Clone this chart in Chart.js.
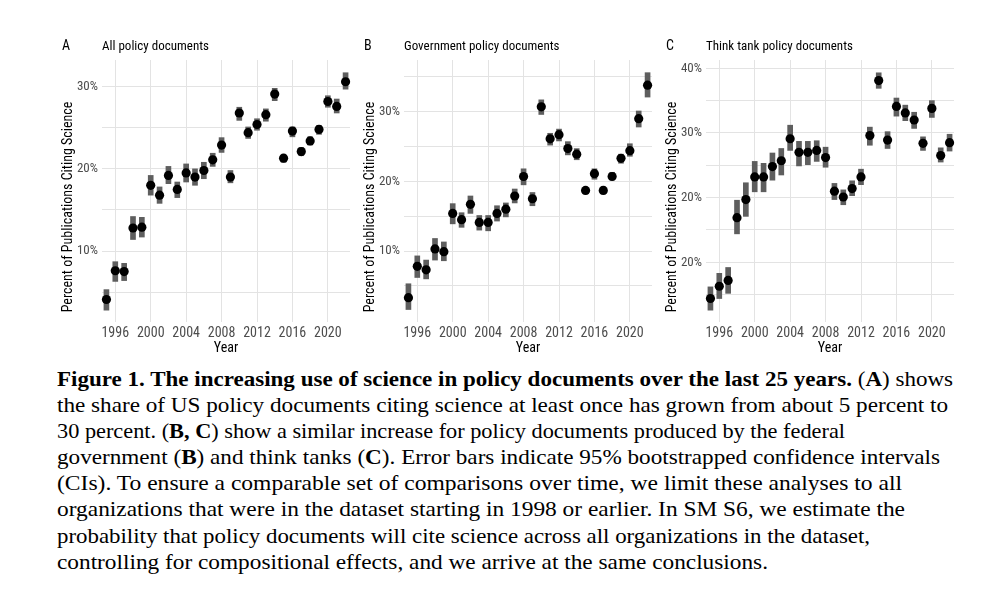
<!DOCTYPE html>
<html>
<head>
<meta charset="utf-8">
<script src="https://cdn.jsdelivr.net/npm/chart.js@4.4.1/dist/chart.umd.min.js"></script>
<style>
  body { margin: 0; background: #fff; width: 1000px; height: 604px; position: relative; overflow: hidden; }
  canvas { position: absolute; top: 30px; }
  #chartA { left: 48px; }
  #chartB { left: 350px; }
  #chartC { left: 652px; }
  #caption { position: absolute; left: 57px; top: 366px; font-family: "Liberation Serif", "Times New Roman", serif;
             font-size: 20.3px; line-height: 26.1px; white-space: nowrap; color: #000; }
  #caption span.line { display: inline-block; transform-origin: 0 50%; }
</style>
</head>
<body>
<canvas id="chartA" width="308" height="330"></canvas>
<canvas id="chartB" width="308" height="330"></canvas>
<canvas id="chartC" width="308" height="330"></canvas>
<div id="caption">
<div><span class="line"><b>Figure 1. The increasing use of science in policy documents over the last 25 years.</b> (<b>A</b>) shows</span></div>
<div><span class="line">the share of US policy documents citing science at least once has grown from about 5 percent to</span></div>
<div><span class="line">30 percent. (<b>B, C</b>) show a similar increase for policy documents produced by the federal</span></div>
<div><span class="line">government (<b>B</b>) and think tanks (<b>C</b>). Error bars indicate 95% bootstrapped confidence intervals</span></div>
<div><span class="line">(CIs). To ensure a comparable set of comparisons over time, we limit these analyses to all</span></div>
<div><span class="line">organizations that were in the dataset starting in 1998 or earlier. In SM S6, we estimate the</span></div>
<div><span class="line">probability that policy documents will cite science across all organizations in the dataset,</span></div>
<div><span class="line">controlling for compositional effects, and we arrive at the same conclusions.</span></div>
</div>
<script>
const FONT = '"Roboto Condensed", "Liberation Sans Narrow", Roboto, sans-serif';

const years = [1995, 1996, 1997, 1998, 1999, 2000, 2001, 2002, 2003, 2004, 2005, 2006, 2007, 2008,
               2009, 2010, 2011, 2012, 2013, 2014, 2015, 2016, 2017, 2018, 2019, 2020, 2021, 2022];
const xTicks = [1996, 2000, 2004, 2008, 2012, 2016, 2020];

// A: all policy documents
const allMean = [4.1, 7.6, 7.5, 12.8, 12.9, 18.0, 16.8, 19.2, 17.5, 19.5, 19.0, 19.8, 21.1, 22.9,
                 19.0, 26.8, 24.4, 25.4, 26.6, 29.1, 21.3, 24.6, 22.1, 23.4, 24.8, 28.2, 27.6, 30.6];
const allLow  = [2.8, 6.3, 6.4, 11.4, 11.7, 16.8, 15.8, 18.2, 16.5, 18.4, 18.0, 18.8, 20.3, 22.0,
                 18.3, 25.9, 23.7, 24.7, 25.8, 28.3, 20.8, 23.9, 21.6, 22.9, 24.2, 27.5, 26.8, 29.7];
const allHigh = [5.3, 8.7, 8.5, 14.2, 14.1, 19.2, 17.8, 20.3, 18.4, 20.6, 20.0, 20.8, 21.9, 23.8,
                 19.8, 27.5, 25.1, 26.1, 27.3, 29.8, 21.7, 25.1, 22.6, 23.9, 25.3, 28.9, 28.5, 31.7];

// B: government policy documents
const govMean = [3.3, 7.8, 7.3, 10.3, 9.9, 15.4, 14.5, 16.7, 14.1, 14.1, 15.4, 16.0, 17.9, 20.7,
                 17.5, 30.7, 26.1, 26.7, 24.7, 23.9, 18.7, 21.1, 18.7, 20.7, 23.3, 24.4, 29.0, 33.8];
const govLow  = [1.6, 6.2, 6.0, 8.7, 8.6, 13.9, 13.4, 15.4, 13.0, 12.9, 14.3, 14.9, 16.9, 19.5,
                 16.5, 29.6, 25.2, 25.8, 23.8, 23.1, 18.2, 20.3, 18.2, 20.2, 22.6, 23.6, 27.8, 32.1];
const govHigh = [5.3, 9.3, 8.7, 11.8, 11.3, 16.8, 15.5, 17.9, 15.1, 15.1, 16.5, 16.9, 18.9, 21.8,
                 18.4, 31.7, 26.9, 27.5, 25.7, 24.7, 19.1, 21.8, 19.2, 21.3, 23.9, 25.4, 30.1, 35.6];

// C: think tank policy documents
const tankMean = [4.4, 6.3, 7.2, 16.9, 19.7, 23.2, 23.2, 24.8, 25.7, 29.1, 27.0, 27.0, 27.3, 26.2,
                  21.0, 20.1, 21.4, 23.2, 29.6, 38.1, 28.9, 34.1, 33.1, 32.0, 28.4, 33.8, 26.5, 28.5];
const tankLow  = [2.6, 4.4, 5.2, 14.4, 17.1, 20.9, 20.9, 22.7, 23.5, 27.3, 24.9, 25.1, 25.6, 24.7,
                  19.7, 18.9, 20.3, 22.0, 28.1, 36.9, 27.6, 32.6, 31.9, 30.7, 27.3, 32.4, 25.5, 27.2];
const tankHigh = [6.2, 8.3, 9.2, 19.6, 22.3, 25.6, 25.3, 26.9, 27.6, 31.2, 28.7, 28.7, 28.8, 27.8,
                  22.2, 21.2, 22.6, 24.4, 30.9, 39.3, 30.2, 35.4, 34.3, 33.2, 29.4, 35.0, 27.7, 29.8];

// y ticks (gridlines) and their labels; unlabeled ticks are minor lines
const yTicksA = [5, 10, 15, 20, 25, 30];
const yLabelsA = ['', '10%', '', '20%', '', '30%'];
const yTicksB = [5, 10, 15, 20, 25, 30, 35];
const yLabelsB = ['', '10%', '', '20%', '', '30%', ''];
const yTicksC = [5, 10, 15, 20, 25, 30, 35, 40];
const yLabelsC = ['', '20%', '', '20%', '', '30%', '', '40%'];

const panelText = {
  id: 'panelText',
  afterDraw(chart, args, opts) {
    const {ctx, chartArea} = chart;
    ctx.save();
    ctx.fillStyle = '#000';
    ctx.textBaseline = 'alphabetic';
    ctx.textAlign = 'left';
    ctx.font = '14px ' + FONT;
    ctx.fillText(opts.letter, chartArea.left - 40, 19.5);
    ctx.font = '13px ' + FONT;
    ctx.fillText(opts.title, chartArea.left, 19.5);
    // y axis title, centred on panel incl. x axis
    ctx.translate(20.5, (chartArea.top + chart.height - 6) / 2);
    ctx.rotate(-Math.PI / 2);
    ctx.textAlign = 'center';
    ctx.textBaseline = 'middle';
    ctx.font = '14px ' + FONT;
    ctx.fillText('Percent of Publications Citing Science', 0, 0);
    ctx.restore();
  }
};

function makePanel(id, letter, title, mean, low, high, yMin, yMax, yTicks, yLabels) {
  const ctx = document.getElementById(id).getContext('2d');
  return new Chart(ctx, {
    type: 'bar',
    data: {
      datasets: [{
        type: 'scatter',
        data: years.map((yr, i) => ({x: yr, y: mean[i]})),
        pointRadius: 4.6,
        pointHoverRadius: 4.6,
        backgroundColor: '#000',
        borderWidth: 0,
        clip: false
      }, {
        data: years.map((yr, i) => ({x: yr, y: [low[i], high[i]]})),
        backgroundColor: '#5e5e5e',
        borderWidth: 0,
        barThickness: 5,
        clip: false
      }]
    },
    options: {
      responsive: false,
      animation: false,
      layout: { padding: { top: 30, left: 0, right: 6, bottom: 0 } },
      plugins: {
        legend: { display: false },
        tooltip: { enabled: false },
        panelText: { letter: letter, title: title }
      },
      scales: {
        x: {
          type: 'linear',
          min: 1994.5,
          max: 2022.5,
          offset: false,
          afterFit: s => { s.height = 38; },
          afterBuildTicks: s => { s.ticks = xTicks.map(v => ({value: v})); },
          grid: { color: '#e3e3e3', lineWidth: 1, drawTicks: false, offset: false },
          border: { display: false },
          ticks: {
            autoSkip: false, maxRotation: 0, padding: 3,
            color: '#4d4d4d', font: { family: FONT, size: 14 },
            callback: v => String(v)
          },
          title: {
            display: true, text: 'Year', color: '#000',
            font: { family: FONT, size: 14 }, padding: { top: 0, bottom: 3 }
          }
        },
        y: {
          min: yMin,
          max: yMax,
          afterFit: s => { s.width = 54; },
          afterBuildTicks: s => { s.ticks = yTicks.map(v => ({value: v})); },
          grid: { color: '#e3e3e3', lineWidth: 1, drawTicks: false },
          border: { display: false },
          ticks: {
            padding: 4, color: '#4d4d4d', font: { family: FONT, size: 13 },
            callback: (v, i) => yLabels[yTicks.indexOf(v)]
          }
        }
      }
    },
    plugins: [panelText]
  });
}

makePanel('chartA', 'A', 'All policy documents', allMean, allLow, allHigh, 1.36, 33.25, yTicksA, yLabelsA);
makePanel('chartB', 'B', 'Government policy documents', govMean, govLow, govHigh, -0.19, 37.42, yTicksB, yLabelsB);
makePanel('chartC', 'C', 'Think tank policy documents', tankMean, tankLow, tankHigh, 0.77, 41.28, yTicksC, yLabelsC);

// squeeze each caption line to the width it has in the reference
const lineEnds = [953, 948, 845, 940, 902, 905, 870, 768];
document.querySelectorAll('#caption span.line').forEach((el, i) => {
  const w = el.getBoundingClientRect().width;
  el.style.transform = 'scaleX(' + ((lineEnds[i] - 57) / w).toFixed(4) + ')';
});
</script>
</body>
</html>
